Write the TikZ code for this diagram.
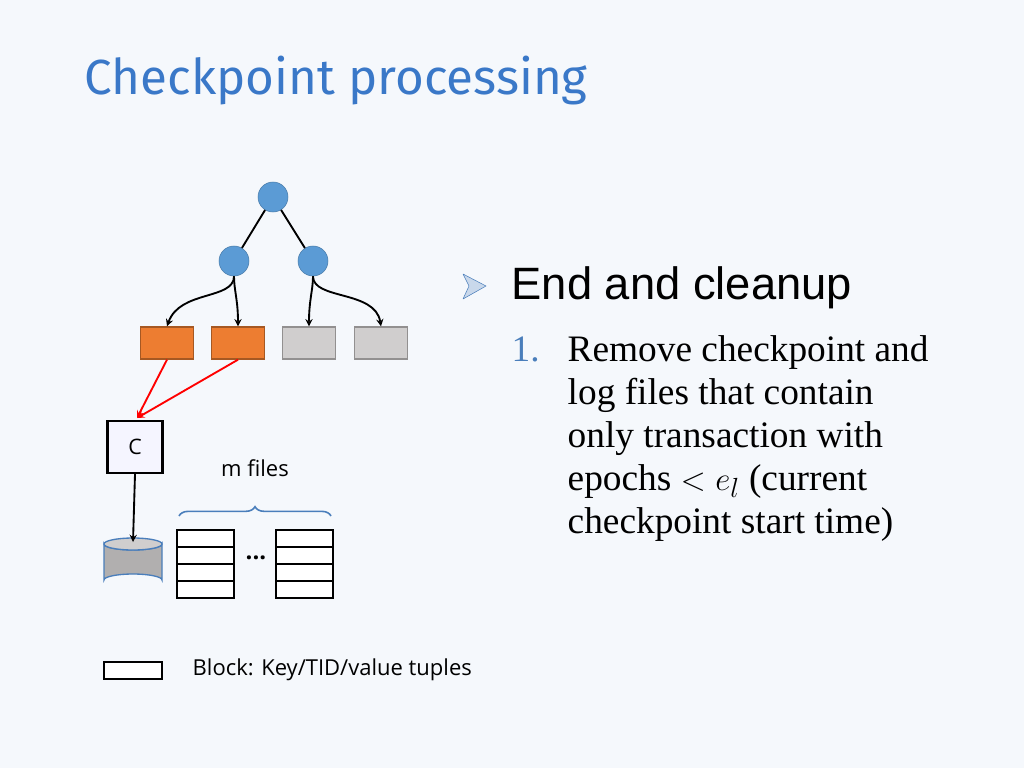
\documentclass[tikz,border=0pt]{standalone}
\usepackage{fontspec}
\setmainfont{Liberation Serif}
\newfontfamily\sansf{Liberation Sans}
\newfontfamily\titlef{Fira Sans}
\newfontfamily\notef{Open Sans}
\usetikzlibrary{shapes.geometric,decorations.pathreplacing,positioning}
\definecolor{bgcol}{HTML}{F5F8FC}
\definecolor{titleblue}{HTML}{3A78C8}
\definecolor{nodeblue}{HTML}{5B9BD5}
\definecolor{leaforange}{HTML}{ED7D31}
\definecolor{leafgray}{HTML}{D0CECE}
\definecolor{listblue}{HTML}{4A7EBB}
\tikzset{
  tnode/.style={circle,draw=nodeblue!80!black,fill=nodeblue,minimum size=22.5pt,inner sep=0pt},
  leaf/.style={draw=#1!70!black,line width=1pt,fill=#1,minimum width=39.75pt,minimum height=24pt,inner sep=0pt},
  row/.style={draw,line width=1.5pt,fill=white,minimum width=42.75pt,minimum height=12.75pt,inner sep=0pt},
  link/.style={->,>=stealth,line width=1.4pt},
  line/.style={font=\fontsize{28}{32}\selectfont,anchor=base west}
}
\begin{document}
\begin{tikzpicture}[x=0.75pt,y=-0.75pt]
\fill[bgcol] (0,0) rectangle (1024,768);
\useasboundingbox (0,0) rectangle (1024,768);

\node[anchor=base west,titleblue,font=\titlef\fontsize{37}{42}\selectfont] (title) at (80,94) {Checkpoint processing};

% tree
\node[tnode] (root) at (273,197) {};
\node[tnode] (l) at (234,261) {};
\node[tnode] (r) at (313,261) {};
\draw[line width=1.4pt] (root) -- (l);
\draw[line width=1.4pt] (root) -- (r);

\node[leaf=leaforange] (a) at (167,343) {};
\node[leaf=leaforange] (b) at (238,343) {};
\node[leaf=leafgray] (c) at (309,343) {};
\node[leaf=leafgray] (d) at (381,343) {};

\draw[link] (l.south) .. controls (234,300) and (180,290) .. (a.north);
\draw[link] (l.south) .. controls (234,290) and (238,300) .. (b.north);
\draw[link] (r.south) .. controls (313,290) and (309,300) .. (c.north);
\draw[link] (r.south) .. controls (313,300) and (375,290) .. (d.north);

% checkpointer
\node[draw,line width=1.8pt,fill=blue!4,minimum width=41pt,minimum height=39pt,inner sep=0pt,
  font=\notef\fontsize{16}{18}\selectfont] (ckpt) at (135,447) {C};
\coordinate (ctop) at (137,418);
\draw[link,red] (a.south) -- (ctop);
\draw[link,red] (b.south) -- (ctop);

% disk
\coordinate (dtop) at (133,542);
\draw[listblue,line width=1pt,fill=leafgray!85!black] (104,544) -- (104,580) arc[start angle=180,end angle=360,x radius=29,y radius=6] -- (162,544) arc[start angle=0,end angle=180,x radius=29,y radius=6] -- cycle;
\draw[listblue,line width=1pt,fill=leafgray] (133,544) ellipse[x radius=29,y radius=6];
\draw[link] (ckpt.south) -- (dtop);

% files
\foreach \i in {0,...,3}{
  \node[row] (f1\i) at (205.5,538.5+17*\i) {};
  \node[row] (f2\i) at (304.5,538.5+17*\i) {};
}
\node[font=\notef\bfseries\fontsize{18}{20}\selectfont] (dots) at (256,558) {...};
\draw[listblue,line width=1.2pt,decorate,decoration={brace,amplitude=7pt}] (179,516) -- (331,516);
\node[font=\notef\fontsize{16.5}{18}\selectfont] (mfiles) at (255,468) {m files};

% legend
\node[draw,line width=1.5pt,fill=white,minimum width=43.5pt,minimum height=12.75pt,inner sep=0pt] (blk) at (133,670) {};
\node[anchor=west,font=\notef\fontsize{16.5}{18}\selectfont] (blklbl) at (188,670) {Block: Key/TID/value tuples};

% text
\draw[listblue,fill=listblue!30,line join=round] (463,274) -- (486,286) -- (463,299) -- (469,286) -- cycle;
\node[anchor=base west,font=\sansf\fontsize{34}{40}\selectfont] (head) at (507,299) {End and cleanup};
\node[line,listblue] (n1) at (507,361) {1.};
\node[line] (t1) at (563,361) {Remove checkpoint and};
\node[line] (t2) at (563,404) {log files that contain};
\node[line] (t3) at (563,447) {only transaction with};
\node[line] (t4) at (563,490) {epochs $<$ $e_l$ (current};
\node[line] (t5) at (563,533) {checkpoint start time)};
\end{tikzpicture}
\end{document}
